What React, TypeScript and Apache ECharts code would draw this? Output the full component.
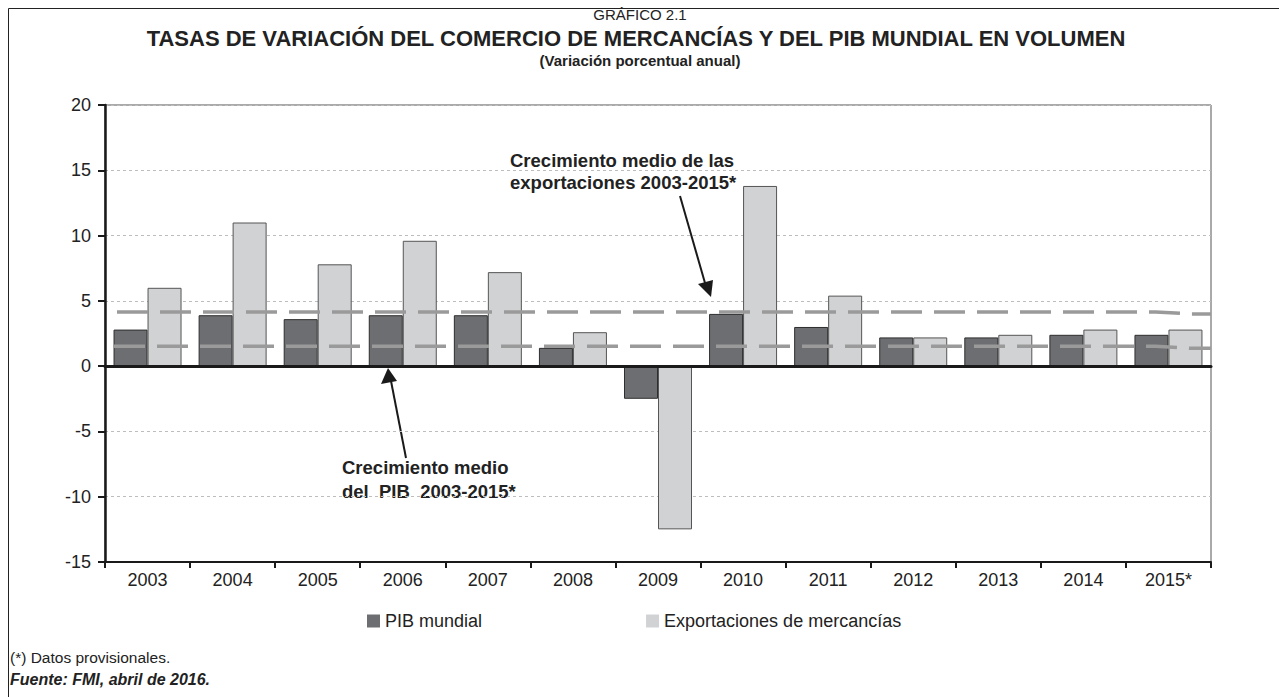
import React, { useEffect, useRef } from "react";
import * as echarts from "echarts";

const years = ["2003", "2004", "2005", "2006", "2007", "2008", "2009", "2010", "2011", "2012", "2013", "2014", "2015*"];
const pibMundial = [2.8, 3.9, 3.6, 3.9, 3.9, 1.4, -2.5, 4.0, 3.0, 2.2, 2.2, 2.4, 2.4];
const exportaciones = [6.0, 11.0, 7.8, 9.6, 7.2, 2.6, -12.5, 13.8, 5.4, 2.2, 2.4, 2.8, 2.8];
// average lines: position along the years axis (0 = left edge, 13 = right edge) and value
const avgPos = [0, 12.35, 12.75, 13];
const avgExportaciones = [4.15, 4.15, 4.0, 4.0];
const avgPib = [1.52, 1.52, 1.37, 1.37];
const yTicks = { min: -15, max: 20, interval: 5 };

const FONT = "'Liberation Sans', Arial, Helvetica, sans-serif";

export default function App() {
  const ref = useRef<HTMLDivElement>(null);
  useEffect(() => {
    if (!ref.current) return;
    const chart = echarts.init(ref.current, null, { renderer: "svg" });
    const txt = { fontFamily: FONT, fill: "#222" };
    chart.setOption({
      animation: false,
      backgroundColor: "#fff",
      textStyle: { fontFamily: FONT },
      grid: { left: 105, right: 68, top: 105, bottom: 135, show: true, borderColor: "#555", borderWidth: 1, backgroundColor: "transparent" },
      xAxis: [
        {
          type: "category",
          data: years,
          position: "bottom",
          axisLine: { onZero: false, lineStyle: { color: "#1a1a1a", width: 2 } },
          axisTick: { show: true, length: 6, lineStyle: { color: "#1a1a1a", width: 2 } },
          axisLabel: { fontSize: 18, color: "#222", margin: 9, fontFamily: FONT },
          splitLine: { show: false },
        },
        {
          type: "category",
          data: years,
          position: "bottom",
          axisLine: { onZero: true, onZeroAxisIndex: 0, lineStyle: { color: "#1a1a1a", width: 3 } },
          axisTick: { show: false },
          axisLabel: { show: false },
          splitLine: { show: false },
          z: 5,
        },
        {
          type: "value",
          min: 0,
          max: 13,
          show: false,
        },
      ],
      yAxis: {
        type: "value",
        min: yTicks.min,
        max: yTicks.max,
        interval: yTicks.interval,
        axisLine: { show: true, lineStyle: { color: "#1a1a1a", width: 2.5 } },
        axisTick: { show: true, length: 7, lineStyle: { color: "#1a1a1a", width: 2 } },
        axisLabel: { fontSize: 18, color: "#222", margin: 14, fontFamily: FONT },
        splitLine: { show: true, lineStyle: { color: "#bdbdbd", type: [3, 3], width: 1 } },
      },
      legend: {
        bottom: 62,
        left: 362,
        itemWidth: 13,
        itemHeight: 13,
        itemGap: 164,
        icon: "rect",
        itemStyle: { borderWidth: 0 },
        textStyle: { fontSize: 18, color: "#222", fontFamily: FONT },
        data: ["PIB mundial", "Exportaciones de mercancías"],
      },
      series: [
        {
          name: "PIB mundial",
          type: "bar",
          xAxisIndex: 0,
          data: pibMundial,
          barWidth: 34,
          barGap: "0%",
          itemStyle: { color: "#6d6e71", borderColor: "#2e2e2e", borderWidth: 1 },
        },
        {
          name: "Exportaciones de mercancías",
          type: "bar",
          xAxisIndex: 0,
          data: exportaciones,
          barWidth: 34,
          barGap: "0%",
          itemStyle: { color: "#d1d2d4", borderColor: "#555", borderWidth: 1 },
        },
        {
          name: "avgExp",
          type: "line",
          xAxisIndex: 2,
          data: avgPos.map((p, i) => [p, avgExportaciones[i]]),
          symbol: "none",
          z: 10,
          lineStyle: { color: "#9a9a9a", width: 3.5, type: [31, 12], dashOffset: 31 },
        },
        {
          name: "avgPib",
          type: "line",
          xAxisIndex: 2,
          data: avgPos.map((p, i) => [p, avgPib[i]]),
          symbol: "none",
          z: 10,
          lineStyle: { color: "#9a9a9a", width: 3.5, type: [31, 12], dashOffset: 34 },
        },
      ],
      graphic: [
        { type: "rect", shape: { x: 8.5, y: 8.5, width: 1400, height: 900 }, style: { fill: "none", stroke: "#222", lineWidth: 1 }, silent: true },
        { type: "text", x: 640, y: 14, style: { ...txt, text: "GRÁFICO 2.1", fontSize: 15, align: "center", verticalAlign: "middle" } },
        { type: "text", x: 636, y: 38, style: { ...txt, text: "TASAS DE VARIACIÓN DEL COMERCIO DE MERCANCÍAS Y DEL PIB MUNDIAL EN VOLUMEN", fontSize: 22, fontWeight: "bold", align: "center", verticalAlign: "middle" } },
        { type: "text", x: 640, y: 60, style: { ...txt, text: "(Variación porcentual anual)", fontSize: 15, fontWeight: "bold", align: "center", verticalAlign: "middle" } },
        { type: "text", x: 510, y: 160, style: { ...txt, text: "Crecimiento medio de las", fontSize: 18.5, fontWeight: "bold", align: "left", verticalAlign: "middle" } },
        { type: "text", x: 510, y: 182, style: { ...txt, text: "exportaciones 2003-2015*", fontSize: 18.5, fontWeight: "bold", align: "left", verticalAlign: "middle" } },
        { type: "text", x: 342, y: 467, style: { ...txt, text: "Crecimiento medio", fontSize: 18.5, fontWeight: "bold", align: "left", verticalAlign: "middle" } },
        { type: "text", x: 342, y: 491, style: { ...txt, text: "del  PIB  2003-2015*", fontSize: 18.5, fontWeight: "bold", align: "left", verticalAlign: "middle" } },
        { type: "line", shape: { x1: 680, y1: 196, x2: 705, y2: 283 }, style: { stroke: "#1a1a1a", lineWidth: 2 } },
        { type: "polygon", shape: { points: [[711, 297], [698, 284], [713, 280]] }, style: { fill: "#1a1a1a" } },
        { type: "line", shape: { x1: 406, y1: 458, x2: 391, y2: 381 }, style: { stroke: "#1a1a1a", lineWidth: 2 } },
        { type: "polygon", shape: { points: [[388, 368], [381, 384], [397, 381]] }, style: { fill: "#1a1a1a" } },
        { type: "text", x: 10, y: 657, style: { ...txt, text: "(*) Datos provisionales.", fontSize: 15.5, align: "left", verticalAlign: "middle" } },
        { type: "text", x: 10, y: 679, style: { ...txt, text: "Fuente: FMI, abril de 2016.", fontSize: 16, fontWeight: "bold", fontStyle: "italic", align: "left", verticalAlign: "middle" } },
      ],
    });
    return () => chart.dispose();
  }, []);
  return <div ref={ref} style={{ position: "fixed", left: 0, top: 0, width: 1279, height: 697 }} />;
}
